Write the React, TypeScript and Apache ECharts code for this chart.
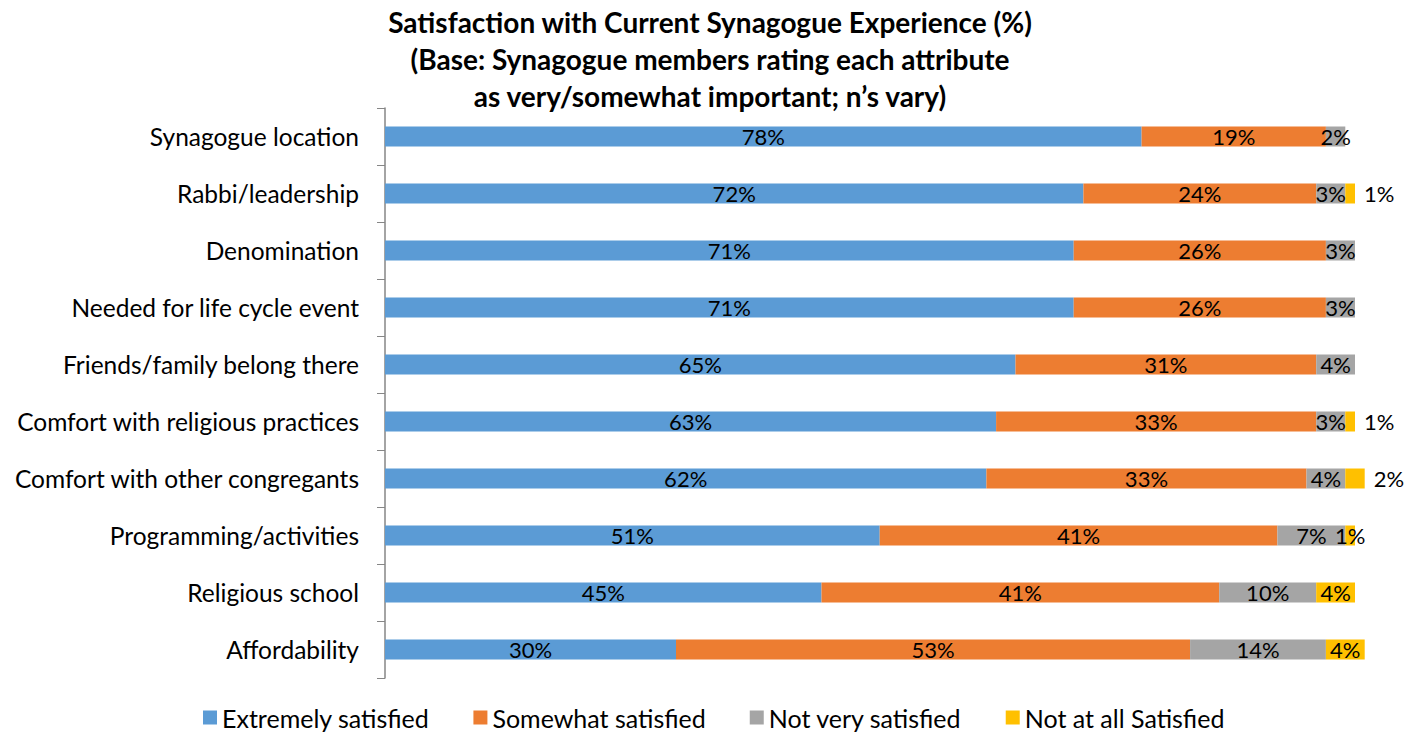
import React, { useEffect, useRef } from "react";
import * as echarts from "echarts";

const categories = [
  "Synagogue location",
  "Rabbi/leadership",
  "Denomination",
  "Needed for life cycle event",
  "Friends/family belong there",
  "Comfort with religious practices",
  "Comfort with other congregants",
  "Programming/activities",
  "Religious school",
  "Affordability",
];
const extremely = [78, 72, 71, 71, 65, 63, 62, 51, 45, 30];
const somewhat = [19, 24, 26, 26, 31, 33, 33, 41, 41, 53];
const notVery = [2, 3, 3, 3, 4, 3, 4, 7, 10, 14];
const notAtAll = [0, 1, 0, 0, 0, 1, 2, 1, 4, 4];
const outsideLabel = [false, true, false, false, false, true, true, false, false, false];

const seriesNames = ["Extremely satisfied", "Somewhat satisfied", "Not very satisfied", "Not at all Satisfied"];
const colors = ["#5B9BD5", "#ED7D31", "#A5A5A5", "#FFC000"];

const FONT = "Lato";

export default function App() {
  const ref = useRef<HTMLDivElement>(null);
  useEffect(() => {
    document.body.style.margin = "0";
    const chart = echarts.init(ref.current!, undefined, { renderer: "svg" });
    const cats = [...categories].reverse();
    const rev = (a: any[]) => [...a].reverse();
    const labelBase = { show: true, color: "#000", fontSize: 22, fontFamily: FONT, formatter: (p: any) => (p.value > 0 ? p.value + "%" : "") };
    const mk = (i: number, data: any[]) => ({
      name: seriesNames[i],
      type: "bar",
      stack: "s",
      barWidth: 20,
      clip: false,
      itemStyle: { color: colors[i] },
      label: { ...labelBase, position: "inside" },
      data,
    });
    const outRev = rev(outsideLabel);
    const yellowData = rev(notAtAll).map((v, idx) =>
      outRev[idx] ? { value: v, label: { ...labelBase, position: "right", distance: 9 } } : { value: v }
    );
    chart.setOption({
      animation: false,
      title: {
        text: "Satisfaction with Current Synagogue Experience (%)\n(Base: Synagogue members rating each attribute\nas very/somewhat important; n\u2019s vary)",
        left: 705,
        textAlign: "center",
        top: -2,
        textStyle: { fontSize: 28, fontWeight: "bold", fontFamily: FONT, color: "#000", lineHeight: 37 },
      },
      legend: {
        bottom: 0,
        left: 198,
        icon: "rect",
        itemWidth: 14,
        itemHeight: 14,
        itemGap: 44,
        textStyle: { fontSize: 25, fontFamily: FONT, color: "#000" },
        data: seriesNames,
      },
      grid: { left: 385, right: 56, top: 108, bottom: 57, containLabel: false },
      xAxis: { type: "value", min: 0, max: 100, show: false },
      yAxis: {
        type: "category",
        data: cats,
        axisLine: { show: true, lineStyle: { color: "#868686", width: 1.5 } },
        axisTick: { show: true, length: 8, lineStyle: { color: "#868686" } },
        axisLabel: { fontSize: 24.5, fontFamily: FONT, color: "#000", margin: 26 },
      },
      series: [mk(0, rev(extremely)), mk(1, rev(somewhat)), mk(2, rev(notVery)), mk(3, yellowData)],
    });
    return () => chart.dispose();
  }, []);
  return <div ref={ref} style={{ width: 1411, height: 735 }} />;
}
